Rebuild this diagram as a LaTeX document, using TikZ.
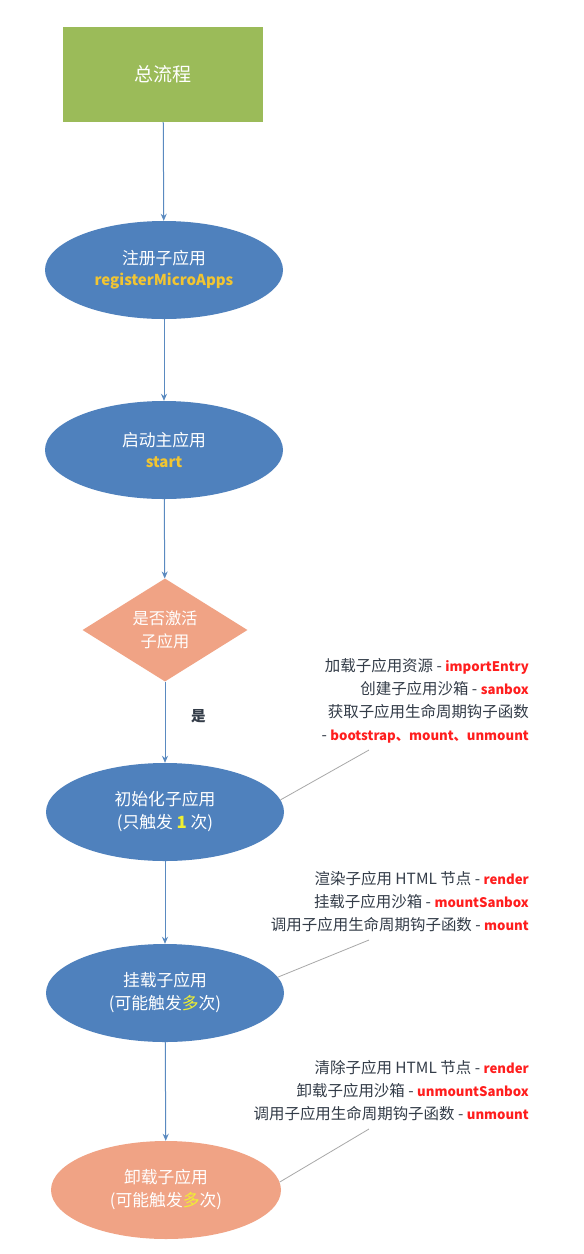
\documentclass[tikz,border=0pt]{standalone}
\usepackage{fontspec}
\setmainfont{Noto Sans CJK SC}[Scale=1.12]
\newfontfamily\codef{Noto Sans CJK SC}[Scale=1.0]
\usetikzlibrary{shapes.geometric,arrows.meta}
\definecolor{rectgreen}{HTML}{9BBB59}
\definecolor{ellblue}{HTML}{4F81BD}
\definecolor{salmon}{HTML}{F0A385}
\definecolor{arrowblue}{HTML}{5A8AC0}
\definecolor{gold}{HTML}{F2C531}
\definecolor{ylw}{HTML}{F0F030}
\definecolor{darktext}{HTML}{333C48}
\definecolor{codered}{HTML}{FF1E1E}
\definecolor{linegray}{HTML}{A8A8A8}
\newcommand{\rc}[1]{{\codef\fontsize{13.2}{23}\selectfont\bfseries\textcolor{codered}{#1}}}
\newcommand{\gc}[1]{{\codef\bfseries\textcolor{gold}{#1}}}
\begin{document}
\begin{tikzpicture}[x=1pt,y=-1pt,
  box/.style={draw=none,fill=rectgreen,minimum width=200pt,minimum height=95pt,inner sep=0pt,text=white,font=\fontsize{17}{20}\selectfont},
  ell/.style={ellipse,draw=none,fill=ellblue,minimum width=238pt,minimum height=98pt,inner sep=0pt,text=white,align=center,font=\fontsize{15}{23}\selectfont},
  ellsal/.style={ell,fill=salmon},
  dia/.style={diamond,draw=none,fill=salmon,minimum width=165pt,minimum height=95pt,inner sep=0pt,text=white,align=center,font=\fontsize{14.5}{23}\selectfont},
  flow/.style={draw=arrowblue,line width=1pt,-{Stealth[length=7pt,width=6pt]}},
  note/.style={align=right,anchor=north east,inner sep=0pt,text=darktext,font=\fontsize{13.8}{23}\selectfont},
  lead/.style={draw=linegray,line width=0.8pt}]
\fill[white] (0,0) rectangle (584,1254);
\useasboundingbox (0,0) rectangle (584,1254);

\node[box] (top) at (163,74.5) {总流程};
\node[ell] (reg) at (164,270) {注册子应用\\[-2pt]\gc{registerMicroApps}};
\node[ell] (start) at (164,450) {启动主应用\\[-2pt]\gc{start}};
\node[dia] (act) at (165,630) {是否激活\\子应用};
\node[ell] (init) at (165,812) {初始化子应用\\(只触发 \textcolor{ylw}{\textbf{1}} 次)};
\node[ell] (mount) at (165,993) {挂载子应用\\(可能触发\textcolor{ylw}{多}次)};
\node[ellsal, minimum width=230pt] (unmount) at (166,1190) {卸载子应用\\(可能触发\textcolor{ylw}{多}次)};

\draw[flow] (top) -- (reg);
\draw[flow] (reg) -- (start);
\draw[flow] (start) -- (act);
\draw[flow] (act) -- node[right=22pt,pos=0.42,text=darktext,font=\fontsize{13}{16}\selectfont\bfseries] (yes) {是} (init);
\draw[flow] (init) -- (mount);
\draw[flow] (mount) -- (unmount);

\node[note] (n1) at (529,658) {加载子应用资源 - \rc{importEntry}\\
创建子应用沙箱 - \rc{sanbox}\\
获取子应用生命周期钩子函数\hspace{6pt}\\
- \rc{bootstrap、mount、unmount}};
\node[note] (n2) at (529,871) {渲染子应用 HTML 节点 - \rc{render}\\
挂载子应用沙箱 - \rc{mountSanbox}\\
调用子应用生命周期钩子函数 - \rc{mount}};
\node[note] (n3) at (529,1060) {清除子应用 HTML 节点 - \rc{render}\\
卸载子应用沙箱 - \rc{unmountSanbox}\\
调用子应用生命周期钩子函数 - \rc{unmount}};

\coordinate (c1) at (369,750);
\coordinate (c2) at (369,940);
\coordinate (c3) at (369,1129);
\draw[lead] (init.6) -- (c1);
\draw[lead] (mount.8) -- (c2);
\draw[lead] (unmount.4) -- (c3);
\end{tikzpicture}
\end{document}
